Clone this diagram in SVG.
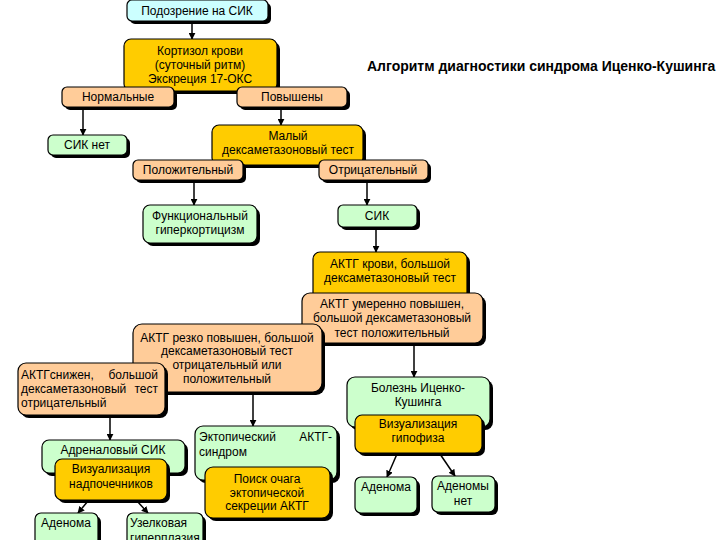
<svg xmlns="http://www.w3.org/2000/svg" width="720" height="540" viewBox="0 0 720 540">
<style>
  .sh { fill: #000; }
  .box { stroke: #000; stroke-width: 1.2; }
  .cy { fill: #ccffff; }
  .gd { fill: #ffcc00; }
  .pc { fill: #ffcc99; }
  .gr { fill: #ccffcc; }
  text { font-family: "Liberation Sans", Arial, sans-serif; font-size: 12px; fill: #000; }
  .c { text-anchor: middle; }
  .r { text-anchor: end; }
  .title { font-size: 14px; font-weight: bold; }
  .conn line { stroke: #000; stroke-width: 1.5; marker-end: url(#arr); }
</style>
<defs>
  <marker id="arr" viewBox="0 0 10 10" refX="9" refY="5" markerWidth="7" markerHeight="7" markerUnits="userSpaceOnUse" orient="auto">
    <path d="M0,0 L10,5 L0,10 z" fill="#000"/>
  </marker>
</defs>
<rect width="720" height="540" fill="#fff"/>

<g id="connectors" class="conn">
  <line x1="192" y1="22" x2="192" y2="39"/>
  <line x1="83" y1="108" x2="83" y2="135"/>
  <line x1="281" y1="108" x2="281" y2="125"/>
  <line x1="194" y1="181" x2="194" y2="205"/>
  <line x1="367" y1="181" x2="367" y2="205"/>
  <line x1="376" y1="227" x2="376" y2="252"/>
  <line x1="414" y1="344" x2="414" y2="377"/>
  <line x1="253" y1="393" x2="253" y2="426"/>
  <line x1="110" y1="416" x2="110" y2="440"/>
  <line x1="397" y1="454" x2="387" y2="477"/>
  <line x1="440" y1="454" x2="455" y2="476"/>
  <line x1="88" y1="501" x2="78" y2="513"/>
  <line x1="137" y1="501" x2="148" y2="513"/>
</g>

<g id="title"><text class="title" x="367" y="71">Алгоритм диагностики синдрома Иценко-Кушинга</text></g>

<g id="n-suspect">
  <rect class="sh" x="130" y="3" width="141" height="21" rx="5"/>
  <rect class="box cy" x="127" y="0" width="141" height="21" rx="5"/>
  <text class="c" x="197" y="15">Подозрение на СИК</text>
</g>

<g id="n-cortisol">
  <rect class="sh" x="127" y="42" width="153" height="52" rx="7"/>
  <rect class="box gd" x="124" y="39" width="153" height="52" rx="7"/>
  <text class="c" x="200" y="55">Кортизол крови</text>
  <text class="c" x="200" y="69">(суточный ритм)</text>
  <text class="c" x="200" y="83">Экскреция 17-ОКС</text>
</g>

<g id="n-normal">
  <rect class="sh" x="65" y="90" width="112" height="20" rx="5"/>
  <rect class="box pc" x="62" y="87" width="112" height="20" rx="5"/>
  <text class="c" x="118" y="101">Нормальные</text>
</g>

<g id="n-elevated">
  <rect class="sh" x="240" y="90" width="110" height="20" rx="5"/>
  <rect class="box pc" x="237" y="87" width="110" height="20" rx="5"/>
  <text class="c" x="292" y="101">Повышены</text>
</g>

<g id="n-nosik">
  <rect class="sh" x="51" y="138" width="79" height="20" rx="5"/>
  <rect class="box gr" x="48" y="135" width="79" height="20" rx="5"/>
  <text class="c" x="87" y="149">СИК нет</text>
</g>

<g id="n-smalldex">
  <rect class="sh" x="215" y="128" width="151" height="40" rx="7"/>
  <rect class="box gd" x="212" y="125" width="151" height="40" rx="7"/>
  <text class="c" x="288" y="140">Малый</text>
  <text class="c" x="288" y="154">дексаметазоновый тест</text>
</g>

<g id="n-positive">
  <rect class="sh" x="136" y="163" width="110" height="20" rx="5"/>
  <rect class="box pc" x="133" y="160" width="110" height="20" rx="5"/>
  <text class="c" x="188" y="174">Положительный</text>
</g>

<g id="n-negative">
  <rect class="sh" x="322" y="163" width="109" height="20" rx="5"/>
  <rect class="box pc" x="319" y="160" width="109" height="20" rx="5"/>
  <text class="c" x="373" y="174">Отрицательный</text>
</g>

<g id="n-functional">
  <rect class="sh" x="146" y="208" width="114" height="38" rx="7"/>
  <rect class="box gr" x="143" y="205" width="114" height="38" rx="7"/>
  <text class="c" x="200" y="220">Функциональный</text>
  <text class="c" x="200" y="234">гиперкортицизм</text>
</g>

<g id="n-sik">
  <rect class="sh" x="341" y="208" width="79" height="22" rx="5"/>
  <rect class="box gr" x="338" y="205" width="79" height="22" rx="5"/>
  <text class="c" x="377" y="220">СИК</text>
</g>

<g id="n-acthblood">
  <rect class="sh" x="316" y="255" width="154" height="48" rx="7"/>
  <rect class="box gd" x="313" y="252" width="154" height="48" rx="7"/>
  <text class="c" x="390" y="268">АКТГ крови, большой</text>
  <text class="c" x="390" y="282">дексаметазоновый тест</text>
</g>

<g id="n-acthmoderate">
  <rect class="sh" x="305" y="296" width="181" height="50" rx="8"/>
  <rect class="box pc" x="302" y="293" width="181" height="50" rx="8"/>
  <text class="c" x="392" y="308">АКТГ умеренно повышен,</text>
  <text class="c" x="392" y="322">большой дексаметазоновый</text>
  <text class="c" x="392" y="337">тест положительный</text>
</g>

<g id="n-acthsharp">
  <rect class="sh" x="136" y="327" width="189" height="68" rx="9"/>
  <rect class="box pc" x="133" y="324" width="189" height="68" rx="9"/>
  <text class="c" x="227" y="342">АКТГ резко повышен, большой</text>
  <text class="c" x="227" y="355">дексаметазоновый тест</text>
  <text class="c" x="227" y="369">отрицательный или</text>
  <text class="c" x="227" y="383">положительный</text>
</g>

<g id="n-acthlow">
  <rect class="sh" x="21" y="366" width="147" height="52" rx="8"/>
  <rect class="box pc" x="18" y="363" width="147" height="52" rx="8"/>
  <text x="21" y="379">АКТГснижен,</text>
  <text class="r" x="158" y="379">большой</text>
  <text x="21" y="393">дексаметазоновый</text>
  <text class="r" x="158" y="393">тест</text>
  <text x="21" y="407">отрицательный</text>
</g>

<g id="n-cushing">
  <rect class="sh" x="350" y="380" width="143" height="50" rx="8"/>
  <rect class="box gr" x="347" y="377" width="143" height="50" rx="8"/>
  <text class="c" x="418" y="392">Болезнь Иценко-</text>
  <text class="c" x="418" y="406">Кушинга</text>
</g>

<g id="n-pitvis">
  <rect class="sh" x="358" y="418" width="127" height="38" rx="7"/>
  <rect class="box gd" x="355" y="415" width="127" height="38" rx="7"/>
  <text class="c" x="418" y="428">Визуализация</text>
  <text class="c" x="418" y="442">гипофиза</text>
</g>

<g id="n-adenr">
  <rect class="sh" x="358" y="480" width="62" height="36" rx="6"/>
  <rect class="box gr" x="355" y="477" width="62" height="36" rx="6"/>
  <text class="c" x="386" y="491">Аденома</text>
</g>

<g id="n-noaden">
  <rect class="sh" x="435" y="479" width="63" height="36" rx="6"/>
  <rect class="box gr" x="432" y="476" width="63" height="36" rx="6"/>
  <text class="c" x="463" y="490">Аденомы</text>
  <text class="c" x="463" y="505">нет</text>
</g>

<g id="n-ectopic">
  <rect class="sh" x="198" y="429" width="142" height="54" rx="8"/>
  <rect class="box gr" x="195" y="426" width="142" height="54" rx="8"/>
  <text x="199" y="441">Эктопический</text>
  <text class="r" x="332" y="441">АКТГ-</text>
  <text x="199" y="456">синдром</text>
</g>

<g id="n-search">
  <rect class="sh" x="208" y="470" width="125" height="51" rx="8"/>
  <rect class="box gd" x="205" y="467" width="125" height="51" rx="8"/>
  <text class="c" x="267" y="483">Поиск очага</text>
  <text class="c" x="267" y="497">эктопической</text>
  <text class="c" x="267" y="510">секреции АКТГ</text>
</g>

<g id="n-adrenal">
  <rect class="sh" x="45" y="443" width="143" height="33" rx="7"/>
  <rect class="box gr" x="42" y="440" width="143" height="33" rx="7"/>
  <text class="c" x="113" y="454">Адреналовый СИК</text>
</g>

<g id="n-adrvis">
  <rect class="sh" x="58" y="462" width="112" height="41" rx="7"/>
  <rect class="box gd" x="55" y="459" width="112" height="41" rx="7"/>
  <text class="c" x="111" y="473">Визуализация</text>
  <text class="c" x="111" y="488">надпочечников</text>
</g>

<g id="n-adenl">
  <rect class="sh" x="38" y="516" width="63" height="40" rx="6"/>
  <rect class="box gr" x="35" y="513" width="63" height="40" rx="6"/>
  <text class="c" x="66" y="527">Аденома</text>
</g>

<g id="n-nodular">
  <rect class="sh" x="130" y="516" width="76" height="40" rx="6"/>
  <rect class="box gr" x="127" y="513" width="76" height="40" rx="6"/>
  <text x="130" y="527">Узелковая</text>
  <text x="130" y="542">гиперплазия</text>
</g>
</svg>
